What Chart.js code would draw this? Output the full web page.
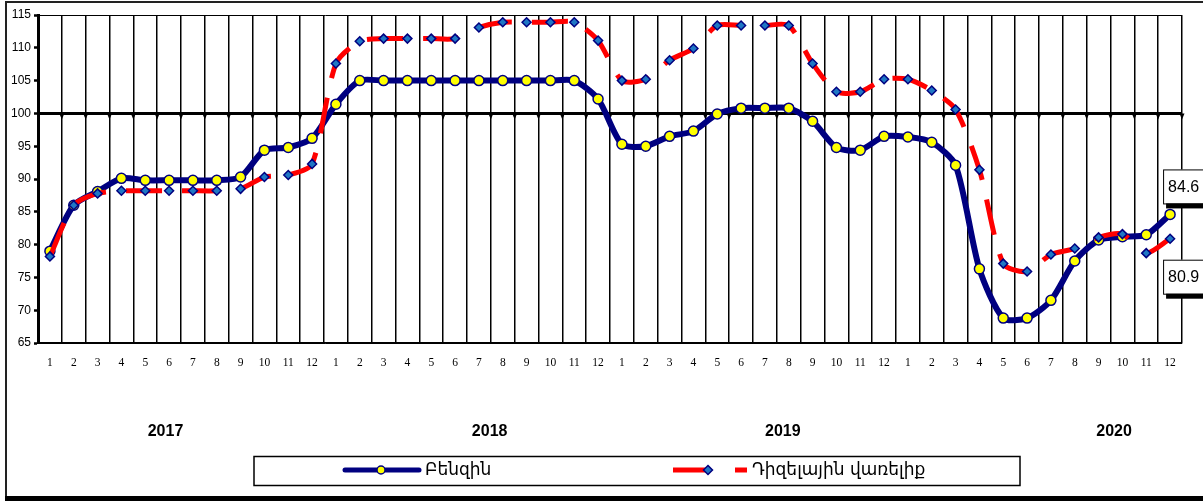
<!DOCTYPE html>
<html>
<head>
<meta charset="utf-8">
<script src="https://cdn.jsdelivr.net/npm/chart.js@4.4.1/dist/chart.umd.min.js"></script>
<style>
  html, body { margin: 0; padding: 0; background: #fff; }
  #wrap { width: 1203px; height: 502px; }
</style>
</head>
<body>
<div id="wrap"><canvas id="fuelChart" width="1203" height="502"></canvas></div>
<script>
const years = ["2017", "2018", "2019", "2020"];
const monthTicks = ["1", "2", "3", "4", "5", "6", "7", "8", "9", "10", "11", "12"];
const seriesNames = ["Բենզին", "Դիզելային վառելիք"];

// Petrol index, by month 2017-2020
const petrol = [
  79.0, 86.0, 88.1, 90.1, 89.8, 89.8, 89.8, 89.8, 90.3, 94.4, 94.8, 96.2,
  101.4, 105.0, 105.0, 105.0, 105.0, 105.0, 105.0, 105.0, 105.0, 105.0, 105.0, 102.2,
  95.3, 95.0, 96.5, 97.3, 99.9, 100.8, 100.8, 100.8, 98.8, 94.8, 94.4, 96.5,
  96.4, 95.6, 92.1, 76.3, 68.8, 68.8, 71.5, 77.5, 80.7, 81.2, 81.5, 84.6
];

// Diesel index, by month 2017-2020
const diesel = [
  78.2, 86.0, 87.8, 88.2, 88.2, 88.2, 88.2, 88.2, 88.5, 90.3, 90.6, 92.3,
  107.6, 111.0, 111.4, 111.4, 111.4, 111.4, 113.1, 113.9, 113.9, 113.9, 113.9, 111.1,
  105.0, 105.2, 108.1, 109.9, 113.4, 113.4, 113.4, 113.4, 107.6, 103.3, 103.3, 105.2,
  105.2, 103.5, 100.6, 91.4, 77.1, 75.9, 78.5, 79.4, 81.1, 81.6, 78.7, 80.9
];

const yMin = 65;
const yMax = 115;
const yStep = 5;
const baseLine = 100;

const NAVY = "#000080";
const RED = "#ff0000";
const YELLOW = "#ffff00";
const DIAMOND = "#1f77c4";

const labels = years.flatMap(() => monthTicks);

// frame round the whole picture
const framePlugin = {
  id: "frame",
  afterDraw(chart) {
    const ctx = chart.ctx;
    ctx.save();
    ctx.fillStyle = "#222";
    ctx.fillRect(6, 1, 1197, 2);
    ctx.fillRect(5, 1, 2, 497);
    ctx.fillStyle = "#000";
    ctx.fillRect(5, 496, 1198, 5);
    ctx.restore();
  }
};

// little marks where the grid crosses the 100 line
const baseTicksPlugin = {
  id: "baseTicks",
  beforeDatasetsDraw(chart) {
    const x = chart.scales.x;
    const y = chart.scales.y;
    const ctx = chart.ctx;
    const half = (x.getPixelForValue(1) - x.getPixelForValue(0)) / 2;
    const py = y.getPixelForValue(baseLine);
    ctx.save();
    ctx.fillStyle = "#000";
    for (let i = 0; i < labels.length; i++) {
      const px = x.getPixelForValue(i) + half;
      ctx.beginPath();
      ctx.moveTo(px - 2.5, py);
      ctx.lineTo(px + 2.5, py);
      ctx.lineTo(px, py + 6);
      ctx.closePath();
      ctx.fill();
    }
    ctx.restore();
  }
};

// year captions under the month numbers
const yearPlugin = {
  id: "yearLabels",
  afterDraw(chart) {
    const x = chart.scales.x;
    const ctx = chart.ctx;
    const step = x.getPixelForValue(1) - x.getPixelForValue(0);
    const centres = [4.85, 6.45, 6.75, 8.65];
    ctx.save();
    ctx.font = "bold 16px 'Liberation Sans', Arial, sans-serif";
    ctx.fillStyle = "#000";
    ctx.textAlign = "center";
    ctx.textBaseline = "middle";
    years.forEach((yr, k) => {
      const px = x.getPixelForValue(k * 12) + step * centres[k];
      ctx.fillText(yr, px, 432);
    });
    ctx.restore();
  }
};

// boxed value labels on the last points
const lastValuePlugin = {
  id: "lastValues",
  afterDatasetsDraw(chart) {
    const ctx = chart.ctx;
    ctx.save();
    ctx.font = "16px 'Liberation Sans', Arial, sans-serif";
    ctx.textBaseline = "middle";
    ctx.textAlign = "left";
    chart.data.datasets.forEach((ds, di) => {
      const meta = chart.getDatasetMeta(di);
      const last = meta.data[meta.data.length - 1];
      const value = ds.data[ds.data.length - 1];
      const bx = last.x - 7;
      const by = di === 0 ? last.y - 45 : last.y + 21;
      const w = 50, h = 34;
      ctx.fillStyle = "#000";
      ctx.fillRect(bx + 3, by + 5, w, h);
      ctx.fillStyle = "#fff";
      ctx.fillRect(bx, by, w, h);
      ctx.strokeStyle = "#000";
      ctx.lineWidth = 1;
      ctx.strokeRect(bx + 0.5, by + 0.5, w, h);
      ctx.fillStyle = "#000";
      ctx.fillText(value.toFixed(1), bx + 5, by + h / 2 + 1);
    });
    ctx.restore();
  }
};

// legend box drawn by hand
const legendPlugin = {
  id: "boxLegend",
  afterDraw(chart) {
    const ctx = chart.ctx;
    const cy = 470;
    ctx.save();
    ctx.strokeStyle = "#000";
    ctx.lineWidth = 1.5;
    ctx.strokeRect(254, 456.5, 766, 29);

    // petrol sample
    ctx.strokeStyle = NAVY;
    ctx.lineWidth = 5;
    ctx.lineCap = "round";
    ctx.beginPath();
    ctx.moveTo(345, cy);
    ctx.lineTo(419, cy);
    ctx.stroke();
    ctx.beginPath();
    ctx.arc(381, cy, 4, 0, Math.PI * 2);
    ctx.fillStyle = YELLOW;
    ctx.fill();
    ctx.lineWidth = 1.5;
    ctx.stroke();

    // diesel sample
    ctx.lineCap = "butt";
    ctx.strokeStyle = RED;
    ctx.lineWidth = 5;
    ctx.beginPath();
    ctx.moveTo(673, cy);
    ctx.lineTo(708, cy);
    ctx.moveTo(735, cy);
    ctx.lineTo(747, cy);
    ctx.stroke();
    ctx.beginPath();
    ctx.moveTo(708, cy - 4.5);
    ctx.lineTo(712.5, cy);
    ctx.lineTo(708, cy + 4.5);
    ctx.lineTo(703.5, cy);
    ctx.closePath();
    ctx.fillStyle = DIAMOND;
    ctx.fill();
    ctx.strokeStyle = NAVY;
    ctx.lineWidth = 1.5;
    ctx.stroke();

    ctx.font = "17px 'DejaVu Sans', sans-serif";
    ctx.fillStyle = "#000";
    ctx.textBaseline = "middle";
    ctx.fillText(seriesNames[0], 425, cy + 1);
    ctx.fillText(seriesNames[1], 752, cy + 1);
    ctx.restore();
  }
};

new Chart(document.getElementById("fuelChart"), {
  type: "line",
  data: {
    labels: labels,
    datasets: [
      {
        label: seriesNames[0],
        data: petrol,
        order: 1,
        borderColor: NAVY,
        borderWidth: 6,
        borderJoinStyle: "round",
        tension: 0.25,
        pointRadius: 5,
        pointBorderWidth: 1.5,
        pointBackgroundColor: YELLOW,
        pointBorderColor: NAVY
      },
      {
        label: seriesNames[1],
        data: diesel,
        order: 0,
        borderColor: RED,
        borderWidth: 5,
        borderDash: [36, 20],
        borderCapStyle: "butt",
        tension: 0.25,
        pointStyle: "rectRot",
        pointRadius: 4.5,
        pointBorderWidth: 1.5,
        pointBackgroundColor: DIAMOND,
        pointBorderColor: NAVY
      }
    ]
  },
  options: {
    responsive: false,
    animation: false,
    devicePixelRatio: 1,
    layout: { padding: { top: 15, right: 21, bottom: 0, left: 0 } },
    plugins: {
      legend: { display: false },
      tooltip: { enabled: false }
    },
    scales: {
      x: {
        offset: true,
        afterFit: scale => { scale.height = 159; },
        grid: {
          offset: true,
          color: "#000",
          lineWidth: 1.5,
          drawTicks: false
        },
        border: { color: "#000", width: 1.5 },
        ticks: {
          autoSkip: false,
          maxRotation: 0,
          padding: 13,
          color: "#000",
          font: { family: "'Liberation Serif', 'Times New Roman', serif", size: 11.5 }
        }
      },
      y: {
        min: yMin,
        max: yMax,
        afterFit: scale => { scale.width = 38; },
        grid: {
          color: ctx => {
            const v = ctx.tick && ctx.tick.value;
            if (v === baseLine || v === yMax || v === yMin) return "#000";
            return "rgba(0,0,0,0)";
          },
          lineWidth: ctx => (ctx.tick && ctx.tick.value === baseLine ? 3 : 1),
          tickLength: 4,
          tickWidth: 2.5,
          tickColor: "#000"
        },
        border: { color: "#000", width: 3 },
        ticks: {
          stepSize: yStep,
          padding: 3,
          color: "#000",
          font: { family: "'Liberation Sans', Arial, sans-serif", size: 12 }
        }
      }
    }
  },
  plugins: [baseTicksPlugin, yearPlugin, lastValuePlugin, legendPlugin, framePlugin]
});
</script>
</body>
</html>
